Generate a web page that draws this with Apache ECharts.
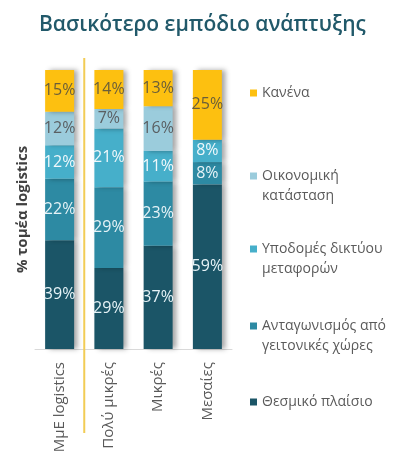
<!DOCTYPE html>
<html>
<head>
<meta charset="utf-8">
<script src="https://cdn.jsdelivr.net/npm/echarts@6/dist/echarts.min.js"></script>
<style>
html,body{margin:0;padding:0;background:#fff;}
#main{width:420px;height:475px;}
</style>
</head>
<body>
<div id="main"></div>
<script>
var categories = ['ΜμΕ logistics', 'Πολύ μικρές', 'Μικρές', 'Μεσαίες'];
var seriesNames = ['Θεσμικό πλαίσιο', 'Ανταγωνισμός από γειτονικές χώρες', 'Υποδομές δικτύου μεταφορών', 'Οικονομική κατάσταση', 'Κανένα'];
var legendLine1 = ['Θεσμικό πλαίσιο', 'Ανταγωνισμός από', 'Υποδομές δικτύου', 'Οικονομική', 'Κανένα'];
var legendLine2 = ['', 'γειτονικές χώρες', 'μεταφορών', 'κατάσταση', ''];
var thesmiko = [39, 29, 37, 59];
var antagonismos = [22, 29, 23, 8];
var ypodomes = [12, 21, 11, 8];
var oikonomiki = [12, 7, 16, 0];
var kanena = [15, 14, 13, 25];
var seriesValues = [thesmiko, antagonismos, ypodomes, oikonomiki, kanena];
var colors = ['#1B5567', '#2D8AA3', '#46AFCA', '#9BCCDC', '#FDC010'];
var labelColors = ['#E6F3F7', '#E6F3F7', '#F0F8FB', '#5A5F62', '#6A5E3A'];

var chart = echarts.init(document.getElementById('main'));
var series = seriesNames.map(function (n, i) {
  return {
    name: n,
    type: 'bar',
    stack: 'total',
    barWidth: 29,
    data: seriesValues[i],
    itemStyle: {
      color: colors[i],
      shadowColor: 'rgba(0,0,0,0.35)',
      shadowBlur: 5,
      shadowOffsetX: 4
    },
    label: {
      show: true,
      position: 'inside',
      fontFamily: 'Open Sans',
      fontSize: 16,
      color: labelColors[i],
      formatter: function (p) { return p.value ? p.value + '%' : ''; }
    }
  };
});

var legendIconY = [402, 326, 249, 176, 93];
var legendLineGap = 20;
var legends = [];
seriesNames.forEach(function (n, i) {
  var base = {
    orient: 'vertical',
    left: 250,
    padding: 0,
    itemWidth: 7,
    itemHeight: 7,
    selectedMode: false,
    data: [n],
    textStyle: { fontFamily: 'Open Sans', fontSize: 14, color: '#5A5A5A', lineHeight: 21 }
  };
  legends.push(Object.assign({}, base, {
    top: legendIconY[i] - 10.5,
    icon: 'rect',
    formatter: function () { return legendLine1[i]; }
  }));
  if (legendLine2[i]) {
    legends.push(Object.assign({}, base, {
      top: legendIconY[i] - 10.5 + legendLineGap,
      icon: 'none',
      itemStyle: { opacity: 0 },
      formatter: function () { return legendLine2[i]; }
    }));
  }
});

chart.setOption({
  animation: false,
  title: {
    text: 'Βασικότερο εμπόδιο ανάπτυξης',
    left: 34,
    top: 10,
    textStyle: { fontFamily: 'Open Sans', fontSize: 21, fontWeight: 600, color: '#21596A' }
  },
  legend: legends,
  grid: { left: 35, top: 70, width: 197, height: 279 },
  xAxis: {
    type: 'category',
    data: categories,
    axisLine: { lineStyle: { color: '#D9D9D9', width: 1 } },
    axisTick: { show: false },
    axisLabel: { rotate: 90, fontFamily: 'Open Sans', fontSize: 15, color: '#595959', margin: 13 }
  },
  yAxis: {
    type: 'value',
    min: 0,
    max: 100,
    axisLabel: { show: false },
    splitLine: { show: false },
    axisLine: { show: false },
    axisTick: { show: false },
    name: '% τομέα logistics',
    nameLocation: 'middle',
    nameRotate: 90,
    nameGap: 5,
    nameTextStyle: { fontFamily: 'Open Sans', fontSize: 15, fontWeight: 'bold', color: '#404040' }
  },
  series: series
});

var x0 = chart.convertToPixel({ xAxisIndex: 0 }, 0);
var x1 = chart.convertToPixel({ xAxisIndex: 0 }, 1);
var yTop = chart.convertToPixel({ yAxisIndex: 0 }, 100);
var yBot = chart.convertToPixel({ yAxisIndex: 0 }, 0);
var sx = (x0 + x1) / 2;
chart.setOption({
  graphic: [{
    type: 'line',
    shape: { x1: sx, y1: yTop - 12, x2: sx, y2: yBot + 84 },
    style: { stroke: '#F2CC55', lineWidth: 2 },
    z: 10
  }]
});
</script>
</body>
</html>
